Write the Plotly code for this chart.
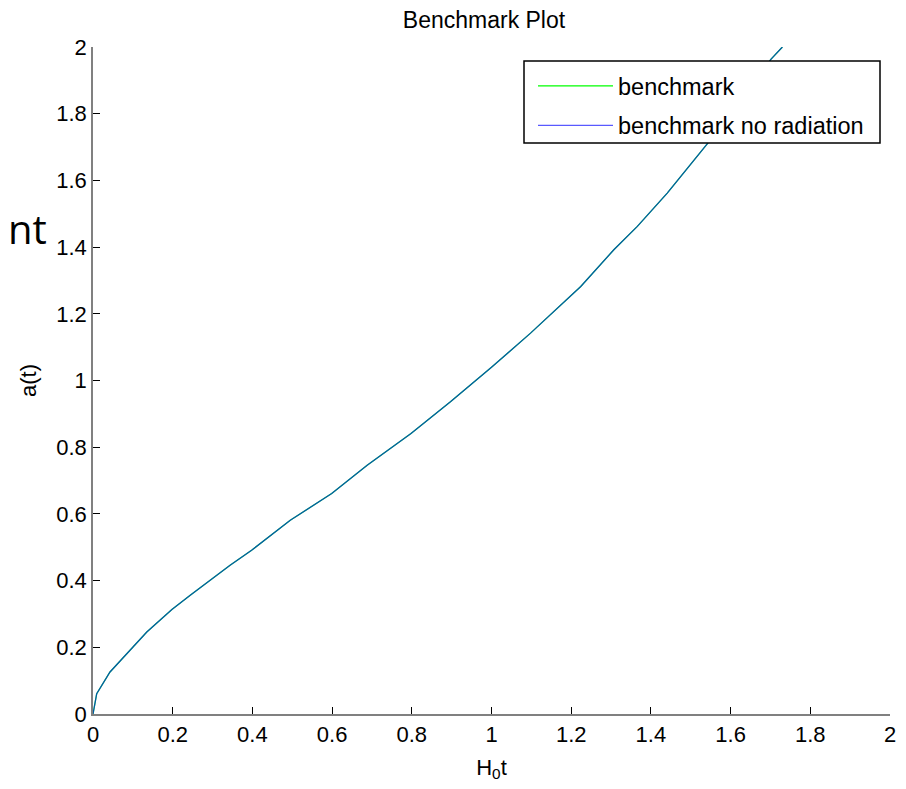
import plotly.graph_objects as go

# Data
t_vals = [0, 0.005, 0.0093, 0.0427, 0.0847, 0.135, 0.198, 0.244, 0.344, 0.398,
          0.495, 0.599, 0.688, 0.798, 0.897, 1.0, 1.098, 1.224, 1.307, 1.366,
          1.441, 1.508, 1.55, 1.63, 1.701, 1.73]
a_vals = [0, 0.03, 0.061, 0.126, 0.181, 0.246, 0.313, 0.356, 0.446, 0.491,
          0.581, 0.661, 0.746, 0.841, 0.936, 1.04, 1.142, 1.282, 1.392, 1.462,
          1.562, 1.662, 1.722, 1.84, 1.963, 2.0]
x_ticks = [0, 0.2, 0.4, 0.6, 0.8, 1, 1.2, 1.4, 1.6, 1.8, 2]
y_ticks = [0, 0.2, 0.4, 0.6, 0.8, 1, 1.2, 1.4, 1.6, 1.8, 2]

OFF = 8  # default page body margin
W, H = 906 - OFF, 789 - OFF
ml, mt = 93 - OFF, 47 - OFF
mr = W - (890 - OFF)
mb = H - (714 - OFF)
pw, ph = W - ml - mr, H - mt - mb

def px2x(px):
    return (px - OFF - ml) / pw

def py2y(py):
    return (H - mb - (py - OFF)) / ph

FONT = "Liberation Sans, Arial, sans-serif"

fig = go.Figure()
fig.add_trace(go.Scatter(x=t_vals, y=a_vals, mode="lines", name="benchmark",
                         line=dict(color="#00ff00", width=1.3), legendgroup="g1"))
fig.add_trace(go.Scatter(x=t_vals, y=a_vals, mode="lines", name="benchmark no radiation",
                         line=dict(color="#0000ff", width=1.3), opacity=0.65,
                         legendgroup="g2"))

# legend frame
fig.add_shape(type="rect", xref="paper", yref="paper",
              x0=px2x(524), x1=px2x(880), y0=py2y(143), y1=py2y(61),
              fillcolor="white", line=dict(color="black", width=1.5), layer="above")

fig.update_layout(
    width=W, height=H,
    margin=dict(l=ml, r=mr, t=mt, b=mb, autoexpand=False),
    paper_bgcolor="white", plot_bgcolor="white",
    font=dict(family=FONT, color="black", size=22),
    title=dict(text="Benchmark Plot", x=(484 - OFF) / W, xanchor="center",
               y=1 - (20 - OFF) / H, yanchor="middle", font=dict(size=23)),
    xaxis=dict(range=[0, 2], tickvals=x_ticks, ticks="inside", ticklen=7,
               tickcolor="black", showline=True, linecolor="#808080", linewidth=1.5,
               showgrid=False, zeroline=False, tickfont=dict(size=22),
               title=dict(text="H<sub>0</sub>t", font=dict(size=22), standoff=13)),
    yaxis=dict(range=[0, 2], tickvals=y_ticks, ticks="inside", ticklen=7,
               tickcolor="black", showline=True, linecolor="#808080", linewidth=1.5,
               showgrid=False, zeroline=False, tickfont=dict(size=22),
               title=dict(text="a(t)", font=dict(size=22), standoff=14)),
    legend=dict(x=px2x(533), y=py2y(64), xanchor="left", yanchor="top",
                bgcolor="rgba(0,0,0,0)", borderwidth=0,
                font=dict(size=23.5, family=FONT), itemwidth=75,
                tracegroupgap=6, traceorder="grouped"),
    showlegend=True,
)

fig.add_annotation(text="nt", xref="paper", yref="paper",
                   x=px2x(49), y=py2y(228), xanchor="right", yanchor="middle",
                   showarrow=False,
                   font=dict(size=40, family="Open Sans, sans-serif", color="black"))

fig.write_html("out.html")
